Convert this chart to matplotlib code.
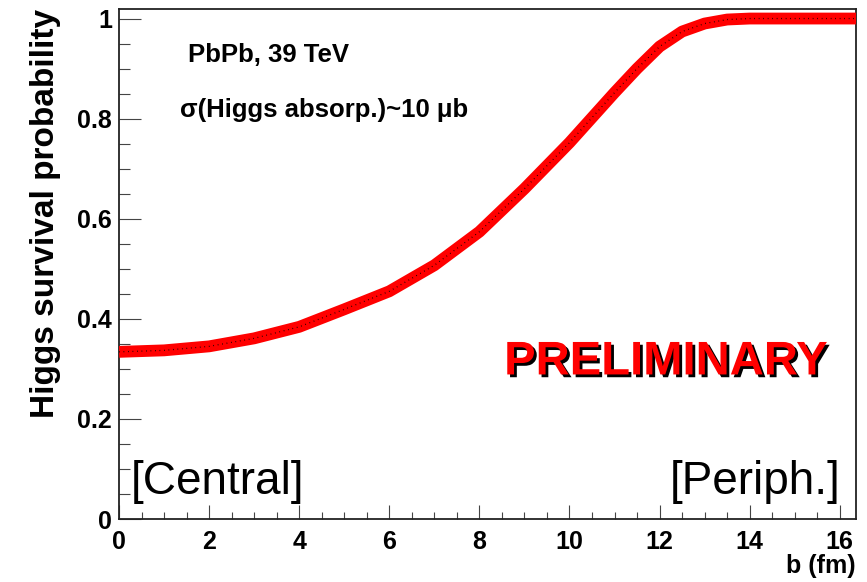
import matplotlib
matplotlib.use("Agg")
import matplotlib.pyplot as plt
import matplotlib.patheffects as pe
from matplotlib.ticker import MultipleLocator, FuncFormatter

# impact parameter (fm) and Higgs survival probability
b_fm = [0.0, 1.0, 2.0, 3.0, 4.0, 5.0, 6.0, 7.0, 8.0, 9.0, 10.0, 10.5, 11.0,
        11.5, 12.0, 12.5, 13.0, 13.5, 14.0, 15.0, 16.0, 16.4]
surv = [0.334, 0.337, 0.345, 0.361, 0.384, 0.419, 0.455, 0.507, 0.574,
        0.660, 0.752, 0.802, 0.852, 0.900, 0.944, 0.974, 0.990, 0.998,
        1.0, 1.0, 1.0, 1.0]

plt.rcParams['font.family'] = ['Liberation Sans', 'DejaVu Sans']

fig = plt.figure(figsize=(8.67, 5.82), dpi=100)
ax = fig.add_axes([0.1373, 0.1082, 0.8500, 0.8763])

ax.plot(b_fm, surv, color='#ff0000', lw=8.5, solid_capstyle='butt',
        solid_joinstyle='round', zorder=3)
ax.plot(b_fm, surv, color='black', lw=0.9, ls=(0, (0.6, 3)), zorder=4)

ax.set_xlim(0, 16.36)
ax.set_ylim(0, 1.019)

ax.xaxis.set_major_locator(MultipleLocator(2))
ax.xaxis.set_minor_locator(MultipleLocator(0.5))
ax.yaxis.set_major_locator(MultipleLocator(0.2))
ax.yaxis.set_minor_locator(MultipleLocator(0.05))
ax.yaxis.set_major_formatter(FuncFormatter(lambda v, p: '%g' % round(v, 2)))

ax.tick_params(axis='x', which='major', direction='in', length=10, width=0.8,
               color='#444444', labelsize=18, pad=8)
ax.tick_params(axis='x', which='minor', direction='in', length=5, width=0.8,
               color='#444444')
ax.tick_params(axis='y', which='major', direction='in', length=16, width=0.8,
               color='#444444', labelsize=18, pad=5)
ax.tick_params(axis='y', which='minor', direction='in', length=8, width=0.8,
               color='#444444')
for lab in ax.get_xticklabels() + ax.get_yticklabels():
    lab.set_fontweight('bold')

for s in ax.spines.values():
    s.set_linewidth(1.3)
    s.set_color('#222222')

ax.set_ylabel('Higgs survival probability', fontsize=24, fontweight='bold',
              loc='top', labelpad=12)
ax.set_xlabel('b (fm)', fontsize=18, fontweight='bold', loc='right', labelpad=0)

ax.text(0.0936, 0.896, 'PbPb, 39 TeV', transform=ax.transAxes, fontsize=18.5,
        fontweight='bold', va='baseline')
ax.text(0.0828, 0.788, 'σ(Higgs absorp.)~10 μb', transform=ax.transAxes,
        fontsize=18.5, fontweight='bold', va='baseline')

ax.text(0.742, 0.307, 'PRELIMINARY', transform=ax.transAxes, fontsize=34,
        fontweight='bold', color='#ff0000', ha='center', va='center',
        path_effects=[pe.withSimplePatchShadow(offset=(2, -2),
                                               shadow_rgbFace='black', alpha=1)])
ax.text(0.016, 0.05, '[Central]', transform=ax.transAxes, fontsize=33,
        ha='left', va='baseline')
ax.text(0.979, 0.05, '[Periph.]', transform=ax.transAxes, fontsize=33,
        ha='right', va='baseline')

fig.savefig('out.png', dpi=100)
